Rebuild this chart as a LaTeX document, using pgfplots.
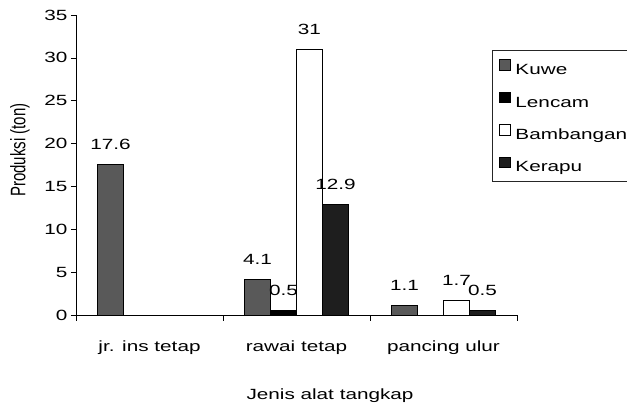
\documentclass[border=0pt]{standalone}
\usepackage{fontspec}
\setmainfont{Liberation Sans}[FakeStretch=1.4]
\newfontfamily\yfont{Liberation Sans}
\usepackage{pgfplots}
\pgfplotsset{compat=1.18}
\definecolor{kuwe}{HTML}{595959}
\definecolor{lencam}{HTML}{000000}
\definecolor{bambangan}{HTML}{FFFFFF}
\definecolor{kerapu}{HTML}{1E1E1E}
\newcommand{\chartfont}{\fontsize{14.8}{17}\selectfont}
\pgfplotsset{
  boxlegend/.style={
    legend image code/.code={
      \draw[##1, line width=0.8pt] (0pt,-0.5pt) rectangle (10.5pt,10pt);
    },
  },
}

\begin{document}
\begin{tikzpicture}
\begin{axis}[
  scale only axis,
  width=441pt,
  height=300pt,
  ybar=0pt,
  bar width=26pt,
  xmin=-0.5, xmax=2.5,
  ymin=0, ymax=35,
  ytick distance=5,
  xtick={0,1,2},
  xticklabels={jr. ins tetap, rawai tetap, pancing ulur},
  minor xtick={-0.5,0.5,1.5,2.5},
  major x tick style={draw=none},
  tick align=outside,
  major tick length=5pt,
  minor tick length=6pt,
  axis x line*=bottom,
  axis y line*=left,
  axis line style={line width=0.6pt},
  tick style={line width=0.6pt, black},
  /pgf/number format/assume math mode=true,
  tick label style={font=\chartfont},
  xticklabel style={anchor=base, yshift=-32pt},
  xlabel={Jenis alat tangkap},
  xlabel style={font=\chartfont, at={(axis description cs:0.576,0)}, anchor=base, yshift=-85pt},
  ylabel={Produksi (ton)},
  ylabel style={font=\fontsize{15}{18}\selectfont\yfont, at={(axis description cs:-0.127,0.55)},
    anchor=center, rotate=-90, xscale=1.4, rotate=90},
  nodes near coords,
  every node near coord/.append style={font=\chartfont, anchor=base, inner sep=0pt, yshift=15pt},
  every axis plot/.append style={draw=black, line width=0.8pt},
  legend style={
    at={(axis description cs:0.943,0.883)},
    anchor=north west,
    draw=black!85,
    line width=0.6pt,
    font=\chartfont,
    inner xsep=7pt,
    inner ysep=9pt,
    row sep=17pt,
    nodes={inner sep=0pt, text height=10pt, text depth=0pt},
    /tikz/every odd column/.append style={column sep=5pt},
  },
  legend cell align=left,
]
\addplot[fill=kuwe, boxlegend] coordinates {(0,17.6) (1,4.1) (2,1.1)};
\addlegendentry{Kuwe}
\addplot[fill=lencam, boxlegend] coordinates {(1,0.5)};
\addlegendentry{Lencam}
\addplot[fill=bambangan, boxlegend] coordinates {(1,31) (2,1.7)};
\addlegendentry{Bambangan}
\addplot[fill=kerapu, boxlegend] coordinates {(1,12.9) (2,0.5)};
\addlegendentry{Kerapu}
\end{axis}
\pgfresetboundingbox
\path (-76pt,-91pt) rectangle (551pt,315pt);
\end{tikzpicture}
\end{document}
